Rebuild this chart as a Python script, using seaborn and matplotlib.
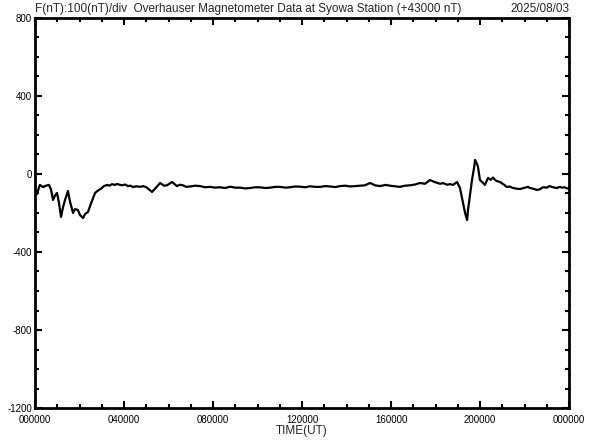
import numpy as np
import pandas as pd
import seaborn as sns
import matplotlib.pyplot as plt
from matplotlib.ticker import MultipleLocator

# time in hours (UT) and F deviation from 43000 nT
hours = [0.00, 0.09, 0.22, 0.36, 0.49, 0.63, 0.72, 0.81, 0.90, 0.99,
         1.08, 1.17, 1.26, 1.35, 1.44, 1.48, 1.57, 1.71, 1.80, 1.93,
         2.02, 2.16, 2.25, 2.38, 2.52, 2.70, 2.83, 2.97, 3.10, 3.24,
         3.35, 3.46, 3.58, 3.69, 3.80, 3.91, 4.05, 4.18, 4.30, 4.40,
         4.55, 4.72, 4.88, 5.03, 5.26, 5.44, 5.62, 5.80, 5.93, 6.16,
         6.38, 6.52, 6.65, 6.80, 6.97, 7.20, 7.42, 7.65, 7.87, 8.10,
         8.31, 8.55, 8.76, 9.00, 9.21, 9.45, 9.66, 9.90, 10.10, 10.35,
         10.56, 10.80, 11.01, 11.25, 11.46, 11.70, 11.91, 12.15, 12.36, 12.60,
         12.81, 13.05, 13.26, 13.50, 13.71, 13.95, 14.16, 14.40, 14.61, 14.83,
         15.06, 15.28, 15.51, 15.75, 15.96, 16.20, 16.40, 16.62, 16.85, 17.08,
         17.30, 17.53, 17.75, 17.98, 18.20, 18.35, 18.52, 18.65, 18.79, 18.97,
         19.10, 19.24, 19.33, 19.42, 19.46, 19.55, 19.64, 19.73, 19.78, 19.87,
         19.91, 20.00, 20.13, 20.22, 20.36, 20.49, 20.58, 20.72, 20.90, 21.08,
         21.21, 21.33, 21.44, 21.62, 21.80, 22.02, 22.15, 22.25, 22.38, 22.56,
         22.70, 22.83, 23.01, 23.12, 23.24, 23.35, 23.46, 23.58, 23.69, 23.80,
         23.91, 24.00]
f_nt = [-118, -100, -56, -67, -60, -56, -80, -133, -110, -97,
        -150, -220, -170, -133, -100, -87, -140, -200, -180, -185,
        -210, -226, -205, -195, -150, -97, -85, -75, -62, -56,
        -60, -52, -56, -51, -55, -58, -54, -62, -60, -67,
        -63, -66, -62, -70, -92, -70, -46, -60, -58, -41,
        -62, -55, -58, -66, -64, -60, -62, -68, -66, -70,
        -68, -72, -65, -70, -70, -74, -72, -68, -68, -72,
        -70, -66, -66, -70, -68, -64, -65, -68, -63, -66,
        -66, -62, -64, -67, -62, -60, -64, -62, -60, -58,
        -46, -58, -62, -56, -60, -63, -66, -60, -58, -54,
        -46, -50, -31, -42, -50, -47, -55, -52, -56, -41,
        -72, -149, -200, -236, -185, -110, -31, 30, 72, 50,
        36, -31, -45, -56, -20, -30, -18, -35, -41, -55,
        -67, -64, -70, -75, -77, -70, -66, -72, -75, -82,
        -78, -68, -70, -62, -66, -70, -72, -66, -70, -68,
        -74, -72]

xtick_pos = [0, 4, 8, 12, 16, 20, 24]
xtick_labels = ["000000", "040000", "080000", "120000", "160000", "200000", "000000"]
ytick_pos = [800, 400, 0, -400, -800, -1200]

df = pd.DataFrame({"hour": hours, "F": f_nt})

sns.set_style("ticks")
plt.rcParams["font.family"] = ["Liberation Sans", "DejaVu Sans"]
plt.rcParams["axes.unicode_minus"] = False

fig = plt.figure(figsize=(5.92, 4.40), dpi=100)
ax = fig.add_axes([35 / 592, 1 - 408 / 440, 534 / 592, 390 / 440])

sns.lineplot(data=df, x="hour", y="F", color="black", linewidth=1.6, ax=ax)

ax.set_xlim(0, 24)
ax.set_ylim(-1200, 800)
ax.set_xticks(xtick_pos)
ax.set_xticklabels(xtick_labels)
ax.set_yticks(ytick_pos)
ax.xaxis.set_minor_locator(MultipleLocator(1))
ax.yaxis.set_minor_locator(MultipleLocator(100))
ax.tick_params(which="both", direction="in", top=True, right=True,
               width=1.5, colors="black", labelsize=7)
ax.tick_params(axis="y", pad=2)
ax.tick_params(axis="x", pad=5)
ax.tick_params(which="major", length=5)
ax.tick_params(which="minor", length=3)
for s in ax.spines.values():
    s.set_linewidth(2)
    s.set_color("black")

ax.set_xlabel("TIME(UT)", fontsize=8.5, labelpad=0)
ax.set_ylabel("")

ax.text(0, 1.008, "F(nT):100(nT)/div  Overhauser Magnetometer Data at Syowa Station (+43000 nT)",
        transform=ax.transAxes, ha="left", va="bottom", fontsize=8.5)
ax.text(1, 1.008, "2025/08/03", transform=ax.transAxes, ha="right", va="bottom", fontsize=8.5)

fig.savefig("out.png", dpi=100, facecolor="white")
